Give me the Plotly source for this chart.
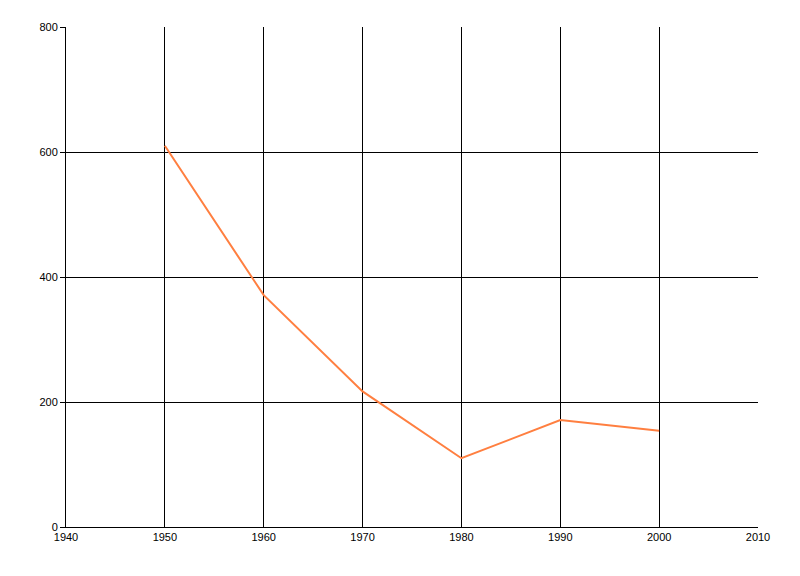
import plotly.graph_objects as go

years = [1950, 1960, 1970, 1980, 1990, 2000]
values = [610, 371, 217, 110, 171, 154]

fig = go.Figure()
fig.add_trace(go.Scatter(x=years, y=values, mode="lines",
                         line=dict(color="#FF7F40", width=2), showlegend=False))

font = dict(family="Liberation Sans, DejaVu Sans, sans-serif", size=11, color="black")
fig.update_layout(
    width=800, height=576,
    margin=dict(l=58, r=50, t=19, b=57),
    paper_bgcolor="white", plot_bgcolor="white",
    font=font,
    xaxis=dict(range=[1940, 2010], tickvals=[1940, 1950, 1960, 1970, 1980, 1990, 2000, 2010],
               showgrid=True, gridcolor="black", gridwidth=1,
               showline=True, linecolor="black", linewidth=1,
               ticks="", ticklen=0, zeroline=False, tickfont=font),
    yaxis=dict(range=[0, 800], tickvals=[0, 200, 400, 600, 800],
               showgrid=True, gridcolor="black", gridwidth=1,
               showline=True, linecolor="black", linewidth=1,
               ticks="outside", ticklen=5, tickcolor="black", zeroline=False, tickfont=font),
)
fig.write_html("out.html")
